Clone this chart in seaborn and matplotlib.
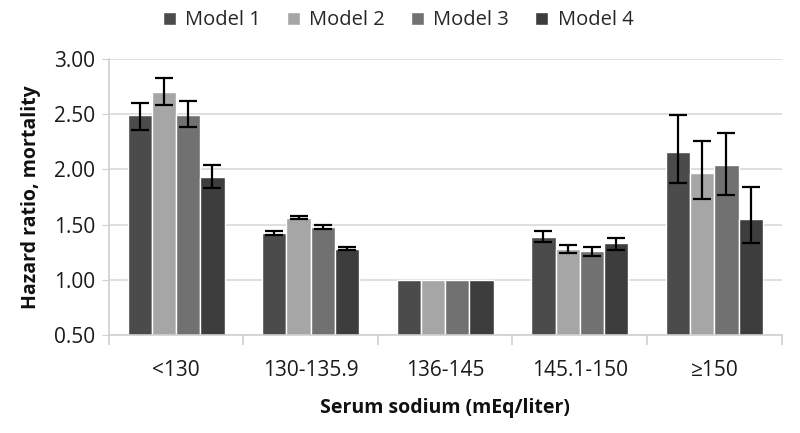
import numpy as np
import pandas as pd
import matplotlib
matplotlib.use("Agg")
import matplotlib.pyplot as plt
import seaborn as sns
from matplotlib.ticker import FixedLocator

categories = ["<130", "130-135.9", "136-145", "145.1-150", "\u2265150"]
models = ["Model 1", "Model 2", "Model 3", "Model 4"]

# hazard ratios per model, in category order
hr_m1 = [2.49, 1.42, 1.00, 1.39, 2.16]
hr_m2 = [2.70, 1.56, 1.00, 1.28, 1.97]
hr_m3 = [2.49, 1.48, 1.00, 1.26, 2.04]
hr_m4 = [1.93, 1.28, 1.00, 1.33, 1.55]

# lower / upper CI (None where no bar shown)
lo_m1 = [2.36, 1.41, None, 1.34, 1.88]
hi_m1 = [2.60, 1.44, None, 1.44, 2.49]
lo_m2 = [2.58, 1.55, None, 1.24, 1.73]
hi_m2 = [2.83, 1.58, None, 1.32, 2.26]
lo_m3 = [2.38, 1.46, None, 1.22, 1.77]
hi_m3 = [2.62, 1.50, None, 1.30, 2.33]
lo_m4 = [1.83, 1.27, None, 1.27, 1.33]
hi_m4 = [2.04, 1.30, None, 1.38, 1.84]

colors = ["#4b4b4b", "#a6a6a6", "#717171", "#3d3d3d"]

sns.set_style("white")
plt.rcParams['font.family'] = ['Open Sans', 'DejaVu Sans']

values = [hr_m1, hr_m2, hr_m3, hr_m4]
lows = [lo_m1, lo_m2, lo_m3, lo_m4]
highs = [hi_m1, hi_m2, hi_m3, hi_m4]

rows = []
for m, vals in zip(models, values):
    for c, v in zip(categories, vals):
        rows.append({"Sodium": c, "Model": m, "HR": v})
df = pd.DataFrame(rows)

fig = plt.figure(figsize=(8, 4.33), dpi=100)
ax = fig.add_axes([0.136, 0.226, 0.841, 0.638])

sns.barplot(data=df, x="Sodium", y="HR", hue="Model", order=categories,
            hue_order=models, palette=colors, width=0.72, saturation=1,
            errorbar=None, ax=ax, zorder=2)

# error bars on top of each bar
for cont, vals, lo, hi in zip(ax.containers, values, lows, highs):
    for bar, v, l, h in zip(cont, vals, lo, hi):
        if l is None:
            continue
        xc = bar.get_x() + bar.get_width() / 2
        ax.errorbar(xc, v, yerr=[[v - l], [h - v]], fmt="none",
                    ecolor="black", elinewidth=1.6, capsize=6.5,
                    capthick=1.6, zorder=3)

ax.set_ylim(0.5, 3.0)
ax.set_yticks(np.arange(0.5, 3.01, 0.5))
ax.set_yticklabels([f"{t:.2f}" for t in np.arange(0.5, 3.01, 0.5)])
ax.set_xlim(-0.5, len(categories) - 0.5)
ax.yaxis.grid(True, color="#d9d9d9", linewidth=1.2, zorder=0)
ax.set_axisbelow(True)

for s in ["top", "right"]:
    ax.spines[s].set_visible(False)
for s in ["left", "bottom"]:
    ax.spines[s].set_color("#d0d0d0")
    ax.spines[s].set_linewidth(1.2)

ax.tick_params(axis="y", length=5, color="#d0d0d0", labelsize=15,
               labelcolor="#1a1a1a", pad=5, left=True)
ax.tick_params(axis="x", which="major", length=0, labelsize=15,
               labelcolor="#1a1a1a", pad=18)
ax.xaxis.set_minor_locator(FixedLocator(np.arange(-0.5, len(categories), 1)))
ax.tick_params(axis="x", which="minor", length=7, color="#d0d0d0",
               width=1.2, bottom=True)

ax.set_xlabel("Serum sodium (mEq/liter)", fontsize=14, fontweight="bold",
              labelpad=12, color="#111111")
ax.set_ylabel("Hazard ratio, mortality", fontsize=14, fontweight="bold",
              labelpad=9, color="#111111")

ax.legend(loc="upper center", bbox_to_anchor=(0.43, 1.205), ncol=4,
          frameon=False, fontsize=14.5, handlelength=0.65, handleheight=0.65,
          handletextpad=0.45, columnspacing=1.3, borderaxespad=0)

fig.savefig("out.png", dpi=100)
